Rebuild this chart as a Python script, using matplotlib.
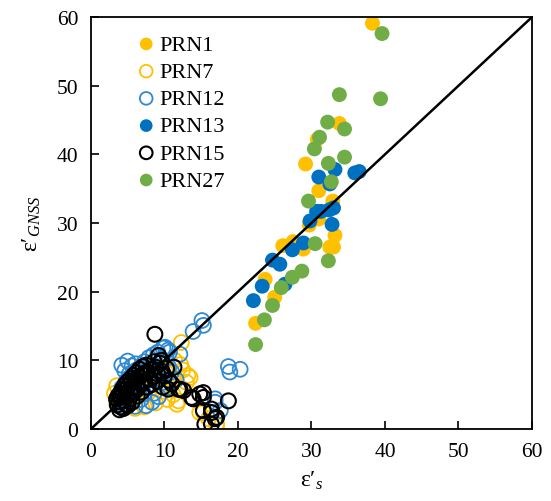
import matplotlib
matplotlib.use('Agg')
import matplotlib.pyplot as plt

plt.rcParams['font.family'] = ['Liberation Serif', 'DejaVu Serif']
plt.rcParams['mathtext.fontset'] = 'custom'
plt.rcParams['mathtext.rm'] = 'Liberation Serif'
plt.rcParams['mathtext.it'] = 'Liberation Serif:italic'

# PRN1 - filled yellow
prn1_x = [38.3, 33.8, 30.8, 29.2, 31.0, 32.9, 31.0, 29.7, 33.2, 32.5, 33.0, 27.5,
          28.9, 26.1, 23.7, 25.0, 22.4]
prn1_y = [59.1, 44.5, 42.2, 38.6, 34.7, 33.2, 30.6, 29.7, 28.2, 26.5, 26.5, 27.3,
          26.2, 26.7, 21.8, 19.2, 15.4]

# PRN7 - open yellow
prn7_x = [12.3, 13.5, 13.2, 11.7, 11.9, 15.3, 17.1, 14.8, 16.0, 17.1,
          3.2, 3.5, 3.9, 4.6, 5.3, 6.2, 7.0, 7.8, 8.4, 9.0, 9.8, 10.6, 11.2, 10.4,
          8.8, 7.3, 6.0, 5.5, 6.7, 8.2, 9.4, 10.1, 11.4, 12.2, 4.8, 12.5, 13.0, 3.5, 4.2]
prn7_y = [12.6, 7.5, 7.8, 3.6, 4.1, 2.4, 0.7, 2.4, 1.5, 0.5,
          5.2, 6.3, 4.0, 3.2, 4.2, 4.8, 5.8, 5.3, 6.5, 7.2, 5.5, 6.2, 5.0, 4.3,
          3.8, 3.2, 3.0, 6.0, 7.0, 8.0, 9.0, 8.6, 10.0, 9.4, 5.5, 8.6, 6.8, 3.7, 4.8]

# PRN12 - open blue
prn12_x = [15.1, 15.3, 13.9, 18.7, 18.9, 20.3, 10.1, 12.1, 10.7, 16.9, 17.6, 16.9,
           4.0, 4.5, 5.2, 6.0, 7.5, 8.3, 3.5, 3.8, 4.2, 4.8, 5.2, 5.6, 6.1, 6.8,
           7.3, 7.9, 8.5, 9.1, 9.6, 9.8, 10.5, 6.5, 7.0, 8.0, 8.8, 9.5, 10.6, 11.0,
           11.6, 5.7, 6.3, 7.6, 8.6, 9.2, 10.3, 3.6, 4.4, 5.0, 6.8, 7.2, 8.0, 6.2,
           5.4, 9.9, 4.2, 4.6, 5.0]
prn12_y = [15.8, 15.1, 14.2, 9.1, 8.3, 8.7, 11.9, 10.9, 11.2, 4.4, 2.7, 3.9,
           3.3, 3.0, 3.6, 3.3, 3.4, 3.9, 4.2, 5.0, 6.0, 7.0, 8.0, 9.2, 9.5, 9.0,
           9.8, 10.4, 10.8, 11.2, 10.2, 11.8, 11.5, 7.5, 8.3, 7.4, 8.6, 7.9, 9.0, 8.3,
           7.2, 5.4, 6.3, 6.0, 5.2, 4.7, 6.0, 3.7, 4.4, 5.2, 4.3, 5.1, 8.8, 8.6,
           6.6, 6.8, 9.3, 8.5, 9.9]

# PRN13 - filled blue
prn13_x = [33.2, 31.0, 35.9, 36.5, 32.5, 30.7, 31.3, 32.4, 33.0, 29.8, 32.8, 28.9,
           27.4, 24.7, 25.7, 26.4, 23.3, 22.1]
prn13_y = [37.8, 36.7, 37.3, 37.5, 35.7, 31.7, 31.7, 31.9, 32.2, 30.3, 29.8, 27.1,
           26.1, 24.6, 24.0, 21.1, 20.8, 18.7]

# PRN15 - open black
prn15_x = [8.7, 14.8, 15.3, 13.9, 18.7, 15.3, 16.4, 17.1, 15.5, 12.1, 12.6, 9.8,
           10.5, 11.9, 15.3, 16.4, 16.4, 16.9, 13.7,
           3.6, 3.8, 4.0, 4.1, 4.3, 4.5, 4.7, 4.9, 5.1, 5.3, 5.5, 5.8, 6.0, 6.2,
           6.5, 6.8, 7.0, 7.3, 7.6, 7.9, 8.2, 8.5, 8.8, 9.1, 9.4, 9.7, 10.0, 10.3,
           10.6, 11.0, 3.9, 4.4, 5.0, 5.6, 6.3, 6.9, 7.6, 8.3, 9.0, 9.6, 9.2, 8.6,
           3.7, 4.2, 11.3, 3.5, 3.9, 4.3, 4.6, 5.0, 5.4, 5.8, 6.2, 6.6, 7.1, 7.5,
           4.8, 5.2, 5.6, 6.0, 6.4]
prn15_y = [13.8, 5.1, 4.6, 4.4, 4.1, 2.7, 2.9, 1.7, 0.7, 5.8, 5.6, 6.1,
           5.8, 5.8, 5.3, 2.4, 0.7, 1.5, 4.6,
           3.5, 4.0, 4.6, 3.2, 5.2, 4.1, 5.8, 4.7, 6.3, 5.3, 6.8, 5.9, 7.1, 6.2,
           7.6, 6.6, 7.9, 7.0, 8.3, 7.3, 8.7, 7.6, 9.0, 8.0, 9.6, 8.4, 7.7, 8.8,
           7.1, 6.6, 2.8, 3.0, 3.4, 3.9, 4.8, 5.4, 6.1, 6.5, 6.9, 10.0, 10.7, 9.8,
           4.8, 5.6, 9.0, 4.4, 5.0, 5.8, 6.4, 6.9, 7.3, 7.8, 8.2, 8.7, 9.1, 9.3,
           3.6, 4.4, 5.0, 5.5, 5.9]

# PRN27 - filled green
prn27_x = [39.6, 33.8, 39.4, 32.2, 34.5, 31.1, 30.4, 34.5, 32.3, 32.7, 29.6, 30.5,
           32.3, 28.7, 27.4, 25.9, 24.7, 23.6, 22.4]
prn27_y = [57.6, 48.7, 48.1, 44.7, 43.7, 42.5, 40.8, 39.6, 38.7, 36.0, 33.2, 27.0,
           24.5, 23.0, 22.1, 20.6, 18.0, 15.9, 12.3]

YELLOW = '#FFC000'
BLUE = '#0070C0'
BLUE_OPEN = '#2E88D4'
GREEN = '#70AD47'

fig = plt.figure(figsize=(5.51, 5.02), dpi=100)
ax = fig.add_axes([0.165, 0.1434, 0.8005, 0.8206])

ms = 115
ax.scatter(prn1_x, prn1_y, s=ms, color=YELLOW, edgecolors='none', label='PRN1')
ax.scatter(prn7_x, prn7_y, s=ms, facecolors='none', edgecolors=YELLOW, linewidths=1.3, label='PRN7')
ax.scatter(prn12_x, prn12_y, s=ms, facecolors='none', edgecolors=BLUE_OPEN, linewidths=1.3, label='PRN12')
ax.scatter(prn13_x, prn13_y, s=ms, color=BLUE, edgecolors='none', label='PRN13')
ax.scatter(prn15_x, prn15_y, s=ms, facecolors='none', edgecolors='black', linewidths=1.5, label='PRN15')
ax.scatter(prn27_x, prn27_y, s=ms, color=GREEN, edgecolors='none', label='PRN27')

# 1:1 line
ax.plot([0, 60], [0, 60], color='black', linewidth=1.8, zorder=5)

ax.set_xlim(0, 60)
ax.set_ylim(0, 60)
ax.set_xticks(range(0, 61, 10))
ax.set_yticks(range(0, 61, 10))
ax.tick_params(direction='in', length=6, width=1.2, labelsize=15.5, pad=9)
for sp in ax.spines.values():
    sp.set_linewidth(1.3)

ax.set_xlabel("ε′$_{s}$", fontsize=17, labelpad=6)
ax.set_ylabel("ε′$_{GNSS}$", fontsize=17, labelpad=10)

ax.legend(loc='upper left', bbox_to_anchor=(0.075, 0.98), frameon=False, fontsize=16,
          handletextpad=0.0, labelspacing=0.3, borderaxespad=0.0, handlelength=1.2,
          markerscale=0.85)

fig.savefig('out.png', dpi=100)
